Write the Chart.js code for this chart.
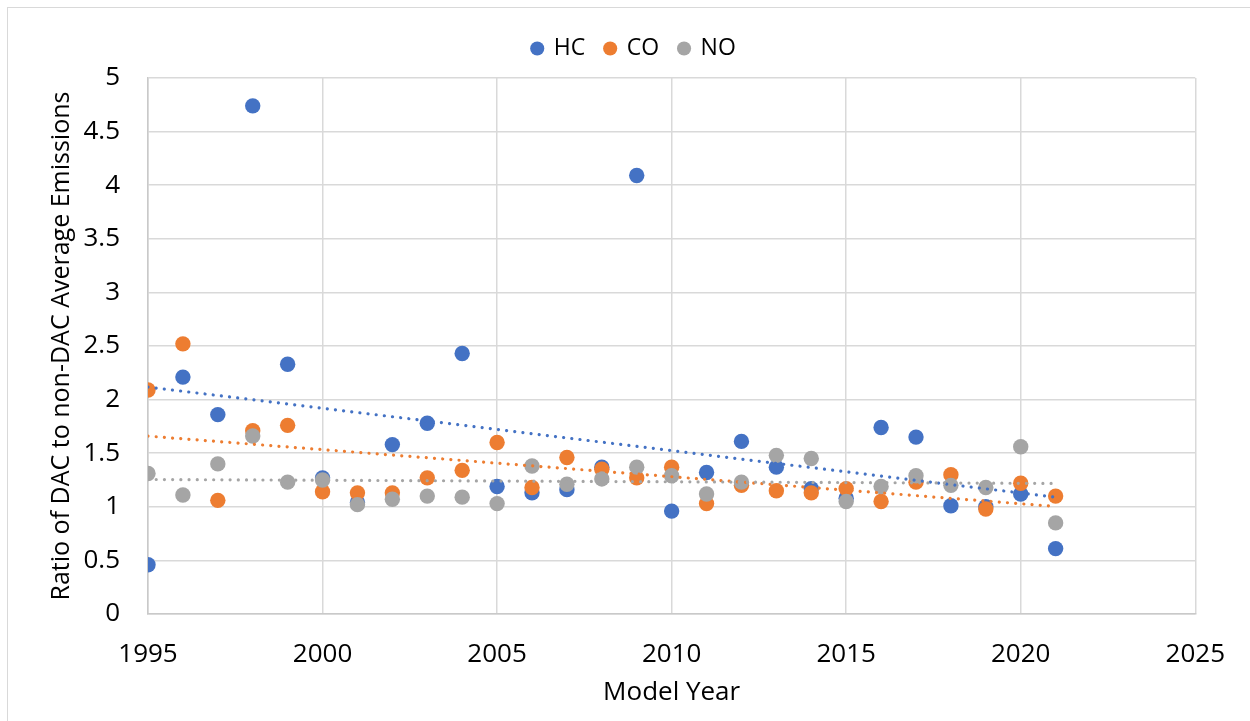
<!DOCTYPE html>
<html>
<head>
<meta charset="utf-8">
<script src="https://cdn.jsdelivr.net/npm/chart.js@4.4.1/dist/chart.umd.min.js"></script>
<style>
  html, body { margin: 0; padding: 0; background: #fff; }
  #frame { position: absolute; left: 7px; top: 7px; width: 1300px; height: 800px; border: 1.5px solid #d9d9d9; box-sizing: border-box; }
  #wrap { position: absolute; left: 0; top: 0; width: 1250px; height: 721px; }
</style>
</head>
<body>
<div id="frame"></div>
<div id="wrap"><canvas id="c" width="1250" height="721"></canvas></div>
<script>
const years = [1995, 1996, 1997, 1998, 1999, 2000, 2001, 2002, 2003, 2004, 2005, 2006, 2007, 2008, 2009, 2010, 2011, 2012, 2013, 2014, 2015, 2016, 2017, 2018, 2019, 2020, 2021];
const hcValues = [0.46, 2.21, 1.86, 4.74, 2.33, 1.27, 1.04, 1.58, 1.78, 2.43, 1.19, 1.13, 1.16, 1.37, 4.09, 0.96, 1.32, 1.61, 1.37, 1.17, 1.08, 1.74, 1.65, 1.01, 1.00, 1.12, 0.61];
const coValues = [2.09, 2.52, 1.06, 1.71, 1.76, 1.14, 1.13, 1.13, 1.27, 1.34, 1.60, 1.18, 1.46, 1.35, 1.27, 1.37, 1.03, 1.20, 1.15, 1.13, 1.17, 1.05, 1.23, 1.30, 0.98, 1.22, 1.10];
const noValues = [1.31, 1.11, 1.40, 1.66, 1.23, 1.25, 1.02, 1.07, 1.10, 1.09, 1.03, 1.38, 1.21, 1.26, 1.37, 1.29, 1.12, 1.23, 1.48, 1.45, 1.05, 1.19, 1.29, 1.20, 1.18, 1.56, 0.85];
const seriesNames = ['HC', 'CO', 'NO'];
const seriesColors = ['#4472C4', '#ED7D31', '#A5A5A5'];
const xTitle = 'Model Year';
const yTitle = 'Ratio of DAC to non-DAC Average Emissions';

function pts(vals) { return years.map((x, i) => ({ x: x, y: vals[i] })); }
function trend(vals) {
  const n = years.length;
  const mx = years.reduce((a, b) => a + b, 0) / n;
  const my = vals.reduce((a, b) => a + b, 0) / n;
  let sxy = 0, sxx = 0;
  for (let i = 0; i < n; i++) { sxy += (years[i] - mx) * (vals[i] - my); sxx += (years[i] - mx) ** 2; }
  const b = sxy / sxx, a = my - b * mx;
  const x0 = years[0], x1 = years[n - 1];
  return [{ x: x0, y: a + b * x0 }, { x: x1, y: a + b * x1 }];
}

const allVals = [hcValues, coValues, noValues];
const datasets = [];
allVals.forEach((v, i) => {
  datasets.push({
    label: seriesNames[i], data: pts(v), backgroundColor: seriesColors[i], borderColor: seriesColors[i],
    pointRadius: 7.7, pointHoverRadius: 7.7, pointBorderWidth: 0, pointStyle: 'circle', showLine: false, order: 5 - i
  });
});
allVals.forEach((v, i) => {
  datasets.push({
    label: 'trend' + seriesNames[i], data: trend(v), borderColor: seriesColors[i], backgroundColor: seriesColors[i],
    showLine: true, pointRadius: 0, borderWidth: 3.2, borderDash: [0.01, 8.2], borderCapStyle: 'round', order: 2 - i
  });
});

const legendPlacePlugin = {
  id: 'legendPlace',
  beforeLayout(chart) {
    const lg = chart.legend;
    if (lg && !lg._patched) {
      const f = lg.fit;
      lg.fit = function () { f.call(this); this.height += 8; };
      lg._patched = true;
    }
  },
  afterLayout(chart) {
    const lg = chart.legend;
    if (lg) { lg.left += 32; lg.right += 32; }
  }
};

const FONT = "'Open Sans', 'Noto Sans', sans-serif";
new Chart(document.getElementById('c'), {
  type: 'scatter',
  data: { datasets: datasets },
  plugins: [legendPlacePlugin],
  options: {
    responsive: false, animation: false, devicePixelRatio: 1,
    layout: { padding: { left: 8, right: 54, top: 17, bottom: 0 } },
    plugins: {
      tooltip: { enabled: false },
      legend: {
        position: 'top',
        labels: {
          usePointStyle: true, boxWidth: 10, boxHeight: 10, padding: 20,
          color: '#000', font: { family: FONT, size: 23 },
          filter: item => seriesNames.includes(item.text),
          sort: (a, b) => a.datasetIndex - b.datasetIndex
        }
      }
    },
    scales: {
      x: {
        type: 'linear', min: 1995, max: 2025,
        ticks: { stepSize: 5, padding: 25, color: '#000', font: { family: FONT, size: 26 }, callback: v => String(v), maxRotation: 0 },
        grid: { color: '#d9d9d9', lineWidth: 1.5, drawTicks: false },
        border: { color: '#c9c9c9', width: 1.5 },
        title: { display: true, text: xTitle, color: '#000', font: { family: FONT, size: 26 }, padding: { top: 0, bottom: 13 } },
        afterFit: s => { s.height = 107; }
      },
      y: {
        min: 0, max: 5,
        ticks: { stepSize: 0.5, padding: 28, color: '#000', font: { family: FONT, size: 26 }, callback: v => String(v) },
        grid: { color: '#d9d9d9', lineWidth: 1.5, drawTicks: false },
        border: { color: '#c9c9c9', width: 1.5 },
        title: { display: true, text: yTitle, color: '#000', font: { family: FONT, size: 25 }, padding: { top: 39, bottom: 0 } },
        afterFit: s => { s.width = 140; }
      }
    }
  }
});
</script>
</body>
</html>
